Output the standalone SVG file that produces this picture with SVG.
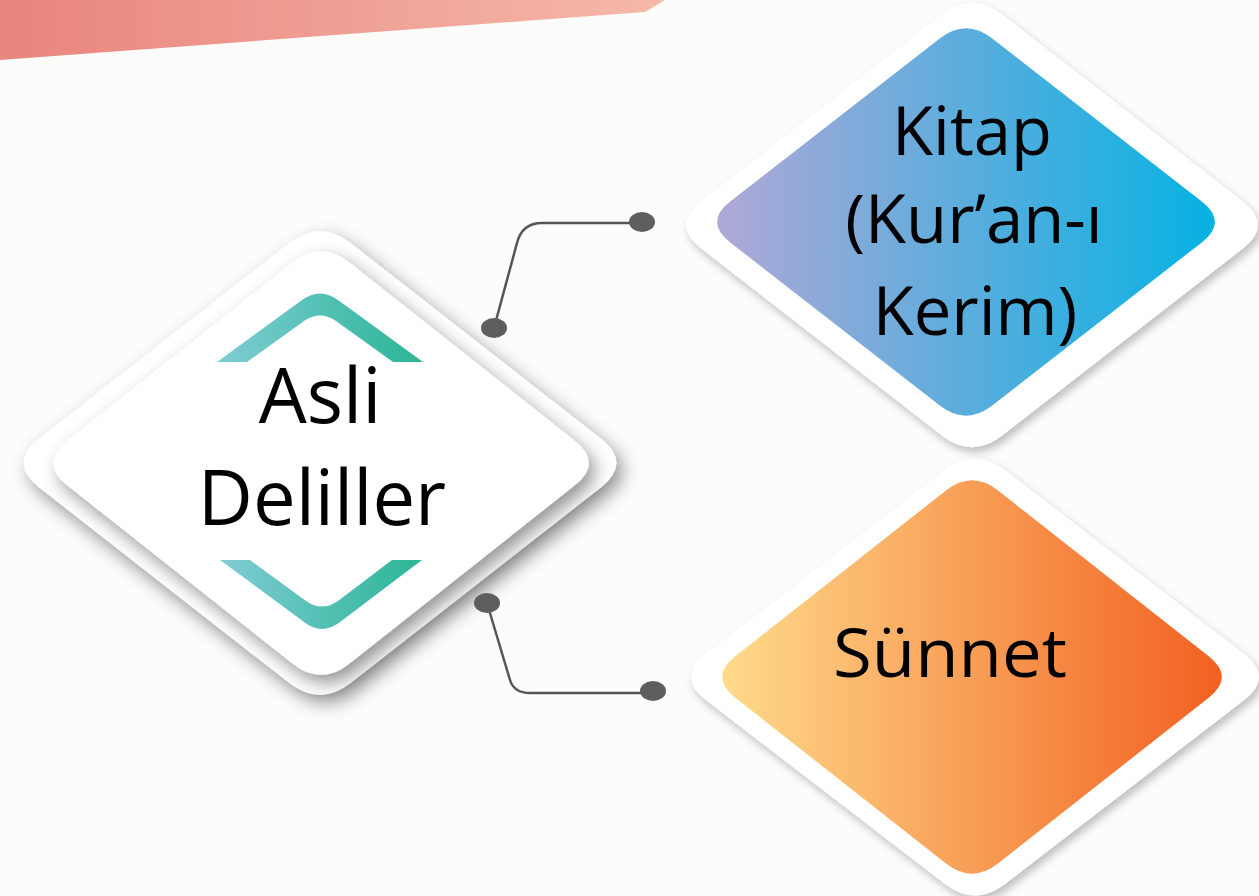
<svg xmlns="http://www.w3.org/2000/svg" width="1259" height="896" viewBox="0 0 1259 896">
  <style>
    .lbl { font-family: "Open Sans", "Noto Sans", "DejaVu Sans", sans-serif; fill: #000; text-anchor: middle; }
    .conn { fill: none; stroke: #555; stroke-width: 2.5; stroke-linecap: round; }
    .dot { fill: #5e5e5e; }
    .white { fill: #ffffff; }
  </style>
  <defs>
    <linearGradient id="gBanner" x1="0" y1="0" x2="1" y2="0">
      <stop offset="0" stop-color="#e9857d"/>
      <stop offset="1" stop-color="#f5b9aa"/>
    </linearGradient>
    <linearGradient id="gBlue" x1="0" y1="0" x2="1" y2="0">
      <stop offset="0" stop-color="#b0a8d6"/>
      <stop offset="1" stop-color="#05b2e3"/>
    </linearGradient>
    <linearGradient id="gOrange" x1="0" y1="0" x2="1" y2="0">
      <stop offset="0" stop-color="#fedb8b"/>
      <stop offset="1" stop-color="#f26020"/>
    </linearGradient>
    <linearGradient id="gTeal" x1="0" y1="0" x2="1" y2="0">
      <stop offset="0" stop-color="#80ccd4"/>
      <stop offset="1" stop-color="#2bb596"/>
    </linearGradient>
    <filter id="shStrong" x="-20%" y="-20%" width="140%" height="140%">
      <feDropShadow dx="6" dy="8" stdDeviation="9" flood-color="#000" flood-opacity="0.42"/>
    </filter>
    <filter id="shSoft" x="-20%" y="-20%" width="140%" height="140%">
      <feDropShadow dx="3" dy="5" stdDeviation="4" flood-color="#000" flood-opacity="0.25"/>
    </filter>
  </defs>

  <rect x="0" y="0" width="1259" height="896" fill="#fcfcfb"/>
  <polygon points="0,0 665,0 645,12 0,60" fill="url(#gBanner)"/>

  <g id="node-asli">
    <path class="white" filter="url(#shStrong)" d="M39.2,438.6 L288.8,243.4 Q320,219 351.2,243.4 L600.8,438.6 Q632,463 600.8,487.4 L351.2,682.6 Q320,707 288.8,682.6 L39.2,487.4 Q8,463 39.2,438.6 Z"/>
    <path class="white" filter="url(#shStrong)" d="M67.2,440.7 L292.8,262.3 Q321,240 349.2,262.3 L574.8,440.7 Q603,463 574.8,485.3 L349.2,663.7 Q321,686 292.8,663.7 L67.2,485.3 Q39,463 67.2,440.7 Z"/>
    <path fill="url(#gTeal)" d="M217,362 L302,300 Q320,287 338,300 L423,362 L393,362 L336,321 Q320,310 304,321 L247,362 Z"/>
    <path fill="url(#gTeal)" d="M220,560 L250,560 L306,601 Q322,612 338,601 L392,560 L422,560 L340,622 Q322,636 304,622 Z"/>
    <text class="lbl" x="320" y="423" font-size="76">Asli</text>
    <text class="lbl" x="322" y="525" font-size="76">Deliller</text>
  </g>

  <g id="node-kitap">
    <path class="white" filter="url(#shSoft)" d="M701.1,201.6 L941.9,14.4 Q972,-9 1002.1,14.4 L1242.9,201.6 Q1273,225 1242.9,248.4 L1002.1,435.6 Q972,459 941.9,435.6 L701.1,248.4 Q671,225 701.1,201.6 Z"/>
    <path fill="url(#gBlue)" d="M730.2,201.6 L939.8,38.4 Q966,18 992.2,38.4 L1201.8,201.6 Q1228,222 1201.8,242.4 L992.2,405.6 Q966,426 939.8,405.6 L730.2,242.4 Q704,222 730.2,201.6 Z"/>
    <text class="lbl" x="972" y="155" font-size="67">Kitap</text>
    <text class="lbl" x="974" y="243" font-size="67">(Kur’an-ı</text>
    <text class="lbl" x="975" y="335" font-size="67">Kerim)</text>
  </g>

  <g id="node-sunnet">
    <path class="white" filter="url(#shSoft)" d="M705.9,654 L945.1,470 Q975,447 1004.9,470 L1244.1,654 Q1274,677 1244.1,700 L1004.9,884 Q975,907 945.1,884 L705.9,700 Q676,677 705.9,654 Z"/>
    <path fill="url(#gOrange)" d="M735.3,656.3 L945.7,490.7 Q972,470 998.3,490.7 L1208.7,656.3 Q1235,677 1208.7,697.7 L998.3,863.3 Q972,884 945.7,863.3 L735.3,697.7 Q709,677 735.3,656.3 Z"/>
    <text class="lbl" x="950" y="677" font-size="68" textLength="234" lengthAdjust="spacingAndGlyphs">Sünnet</text>
  </g>

  <g id="connectors">
    <path class="conn" d="M494,328 L517,243 Q522,223 542,223 L642,223"/>
    <path class="conn" d="M487,603 L510,680 Q514,693 530,693 L652,693"/>
    <ellipse class="dot" cx="642" cy="222" rx="13" ry="10"/>
    <ellipse class="dot" cx="494" cy="328" rx="13" ry="10"/>
    <ellipse class="dot" cx="487" cy="603" rx="13" ry="10"/>
    <ellipse class="dot" cx="653" cy="691" rx="13" ry="10"/>
  </g>
</svg>
